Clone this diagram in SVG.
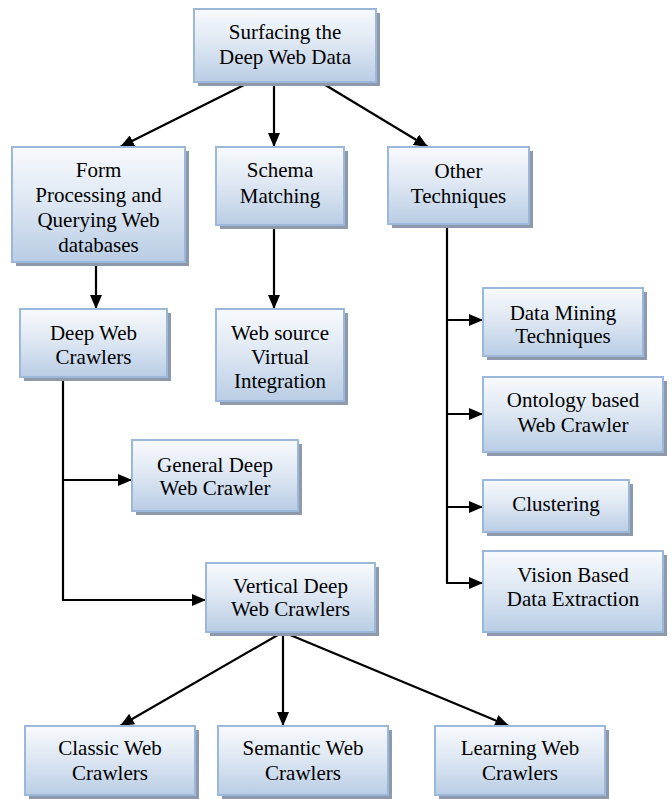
<svg xmlns="http://www.w3.org/2000/svg" width="672" height="799" viewBox="0 0 672 799">
<defs>
<linearGradient id="g" x1="0" y1="0" x2="0" y2="1">
<stop offset="0" stop-color="#f8fafd"/>
<stop offset="0.5" stop-color="#dce6f2"/>
<stop offset="1" stop-color="#b9cde5"/>
</linearGradient>
<marker id="ah" viewBox="0 0 14 12" refX="14" refY="6" markerWidth="14" markerHeight="12" markerUnits="userSpaceOnUse" orient="auto">
<path d="M0,0 L14,6 L0,12 z" fill="#000"/>
</marker>
<style>
.sh{fill:#8e9aab}
.bx{fill:url(#g);stroke:#9bb7d9;stroke-width:2}
text{font-family:"Liberation Serif","Times New Roman",serif;font-size:21px;fill:#000;text-anchor:middle}
.c{fill:none;stroke:#000;stroke-width:2.2}
.a{marker-end:url(#ah)}
</style>
</defs>
<rect width="672" height="799" fill="#fff"/>

<g id="connectors">
<line class="c a" x1="248" y1="83" x2="120" y2="147"/>
<line class="c a" x1="274" y1="83" x2="274" y2="147"/>
<line class="c a" x1="322" y1="83" x2="428" y2="147"/>
<line class="c a" x1="96" y1="262" x2="96" y2="309"/>
<line class="c a" x1="274" y1="225" x2="274" y2="309"/>
<polyline class="c" points="447,225 447,583"/>
<line class="c a" x1="447" y1="320" x2="483" y2="320"/>
<line class="c a" x1="447" y1="414" x2="483" y2="414"/>
<line class="c a" x1="447" y1="507" x2="483" y2="507"/>
<line class="c a" x1="446" y1="583" x2="483" y2="583"/>
<polyline class="c a" points="63,377 63,600 206,600"/>
<line class="c a" x1="63" y1="480" x2="132" y2="480"/>
<line class="c a" x1="283" y1="632" x2="120" y2="726"/>
<line class="c a" x1="283" y1="632" x2="283" y2="726"/>
<line class="c a" x1="283" y1="632" x2="509" y2="726"/>
</g>

<g id="n-surfacing">
<rect class="sh" x="198" y="13" width="182" height="73"/>
<rect class="bx" x="194" y="9" width="182" height="73"/>
<text x="285" y="39">Surfacing the</text>
<text x="285" y="64">Deep Web Data</text>
</g>

<g id="n-form">
<rect class="sh" x="16" y="151" width="173" height="115"/>
<rect class="bx" x="12" y="147" width="173" height="115"/>
<text x="98.5" y="177">Form</text>
<text x="98.5" y="202">Processing and</text>
<text x="98.5" y="227">Querying Web</text>
<text x="98.5" y="252">databases</text>
</g>

<g id="n-schema">
<rect class="sh" x="220" y="151" width="128" height="78"/>
<rect class="bx" x="216" y="147" width="128" height="78"/>
<text x="280" y="177">Schema</text>
<text x="280" y="203">Matching</text>
</g>

<g id="n-other">
<rect class="sh" x="392" y="151" width="141" height="77"/>
<rect class="bx" x="388" y="147" width="141" height="77"/>
<text x="458.5" y="178">Other</text>
<text x="458.5" y="203">Techniques</text>
</g>

<g id="n-deepweb">
<rect class="sh" x="24" y="313" width="147" height="68"/>
<rect class="bx" x="20" y="309" width="147" height="68"/>
<text x="93.5" y="340">Deep Web</text>
<text x="93.5" y="364">Crawlers</text>
</g>

<g id="n-websource">
<rect class="sh" x="220" y="313" width="128" height="92"/>
<rect class="bx" x="216" y="309" width="128" height="92"/>
<text x="280" y="340">Web source</text>
<text x="280" y="364">Virtual</text>
<text x="280" y="388">Integration</text>
</g>

<g id="n-general">
<rect class="sh" x="136" y="444" width="166" height="71"/>
<rect class="bx" x="132" y="440" width="166" height="71"/>
<text x="215" y="472">General Deep</text>
<text x="215" y="495">Web Crawler</text>
</g>

<g id="n-vertical">
<rect class="sh" x="210" y="567" width="169" height="69"/>
<rect class="bx" x="206" y="563" width="169" height="69"/>
<text x="290.5" y="593">Vertical Deep</text>
<text x="290.5" y="616">Web Crawlers</text>
</g>

<g id="n-datamining">
<rect class="sh" x="487" y="292" width="160" height="68"/>
<rect class="bx" x="483" y="288" width="160" height="68"/>
<text x="563" y="320">Data Mining</text>
<text x="563" y="343">Techniques</text>
</g>

<g id="n-ontology">
<rect class="sh" x="487" y="381" width="180" height="75"/>
<rect class="bx" x="483" y="377" width="180" height="75"/>
<text x="573" y="407">Ontology based</text>
<text x="573" y="432">Web Crawler</text>
</g>

<g id="n-clustering">
<rect class="sh" x="487" y="484" width="146" height="52"/>
<rect class="bx" x="483" y="480" width="146" height="52"/>
<text x="556" y="511">Clustering</text>
</g>

<g id="n-vision">
<rect class="sh" x="487" y="555" width="180" height="81"/>
<rect class="bx" x="483" y="551" width="180" height="81"/>
<text x="573" y="582">Vision Based</text>
<text x="573" y="606">Data Extraction</text>
</g>

<g id="n-classic">
<rect class="sh" x="29" y="730" width="170" height="69"/>
<rect class="bx" x="25" y="726" width="170" height="69"/>
<text x="110" y="755">Classic Web</text>
<text x="110" y="780">Crawlers</text>
</g>

<g id="n-semantic">
<rect class="sh" x="222" y="730" width="170" height="69"/>
<rect class="bx" x="218" y="726" width="170" height="69"/>
<text x="303" y="755">Semantic Web</text>
<text x="303" y="780">Crawlers</text>
</g>

<g id="n-learning">
<rect class="sh" x="439" y="730" width="170" height="69"/>
<rect class="bx" x="435" y="726" width="170" height="69"/>
<text x="520" y="755">Learning Web</text>
<text x="520" y="780">Crawlers</text>
</g>
</svg>
